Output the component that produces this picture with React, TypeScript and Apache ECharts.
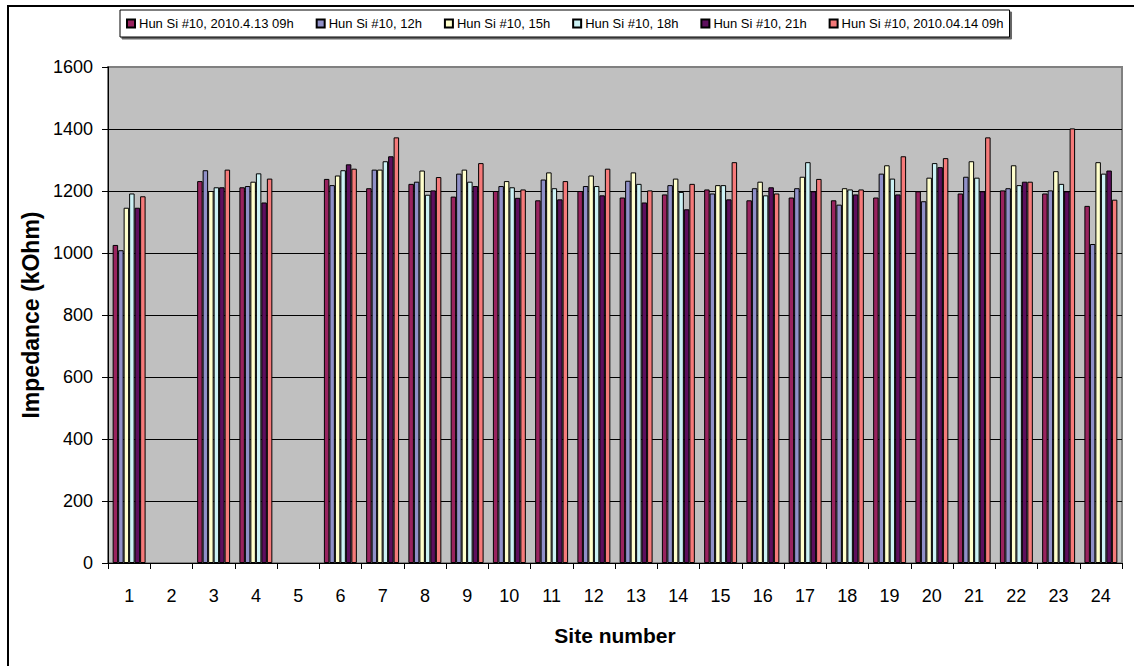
import React, { useEffect, useRef } from "react";
import * as echarts from "echarts";

const sites = ["1","2","3","4","5","6","7","8","9","10","11","12","13","14","15","16","17","18","19","20","21","22","23","24"];
const seriesNames = [
  "Hun Si #10, 2010.4.13 09h",
  "Hun Si #10, 12h",
  "Hun Si #10, 15h",
  "Hun Si #10, 18h",
  "Hun Si #10, 21h",
  "Hun Si #10, 2010.04.14 09h",
];
const s0913 = [1026, null, 1232, 1212, null, 1239, 1209, 1223, 1182, 1200, 1170, 1200, 1179, 1189, 1205, 1170, 1179, 1170, 1179, 1199, 1192, 1202, 1192, 1152];
const s12 = [1009, null, 1267, 1216, null, 1219, 1269, 1230, 1256, 1216, 1237, 1216, 1233, 1219, 1192, 1209, 1209, 1156, 1256, 1167, 1246, 1209, 1202, 1029];
const s15 = [1146, null, 1200, 1230, null, 1250, 1269, 1266, 1269, 1232, 1260, 1250, 1260, 1240, 1219, 1230, 1246, 1209, 1283, 1243, 1296, 1283, 1264, 1293];
const s18 = [1192, null, 1212, 1257, null, 1267, 1296, 1188, 1230, 1212, 1209, 1216, 1223, 1197, 1219, 1186, 1293, 1205, 1240, 1290, 1243, 1219, 1223, 1256];
const s21 = [1146, null, 1212, 1163, null, 1286, 1312, 1202, 1216, 1178, 1173, 1186, 1163, 1141, 1173, 1212, 1199, 1189, 1189, 1277, 1199, 1230, 1199, 1266];
const s0914 = [1183, null, 1269, 1240, null, 1272, 1373, 1245, 1290, 1205, 1232, 1272, 1202, 1223, 1293, 1192, 1239, 1205, 1312, 1306, 1373, 1230, 1402, 1172];
const allSeries = [s0913, s12, s15, s18, s21, s0914];
const colors = ["#99235F", "#9090C8", "#FFFFCC", "#CCF2F5", "#5E0F5E", "#F57A7A"];

const FONT = "'Liberation Sans', Arial, sans-serif";

export default function App() {
  const ref = useRef<HTMLDivElement>(null);
  useEffect(() => {
    if (!ref.current) return;
    const chart = echarts.init(ref.current, undefined, { renderer: "svg" });
    const gridColors = ["#000", "#000", "#000", "#000", "#000", "#000", "#000", "#000", "#808080"];
    chart.setOption({
      animation: false,
      backgroundColor: "#fff",
      textStyle: { fontFamily: FONT },
      graphic: [
        {
          type: "rect",
          shape: { x: 8, y: 6, width: 1200, height: 700 },
          style: { fill: "none", stroke: "#000", lineWidth: 2 },
          silent: true,
          z: 100,
        },
      ],
      legend: {
        left: 120,
        top: 10,
        padding: [7, 6, 7, 6],
        itemGap: 22,
        itemWidth: 8,
        itemHeight: 8,
        icon: "rect",
        backgroundColor: "#fff",
        borderColor: "#000",
        borderWidth: 1,
        shadowColor: "rgba(0,0,0,0.6)",
        shadowOffsetX: 2,
        shadowOffsetY: 2,
        shadowBlur: 0,
        textStyle: { fontFamily: FONT, fontSize: 13, color: "#000", padding: [0, 0, 0, -1] },
        data: seriesNames,
      },
      grid: {
        left: 108,
        top: 67,
        right: 12,
        bottom: 103,
        show: true,
        backgroundColor: "#C0C0C0",
        borderColor: "#808080",
        borderWidth: 2,
      },
      xAxis: {
        type: "category",
        data: sites,
        name: "Site number",
        nameLocation: "middle",
        nameGap: 62,
        nameTextStyle: { fontFamily: FONT, fontSize: 21, fontWeight: "bold", color: "#000" },
        axisLine: { show: true, lineStyle: { color: "#000", width: 1 } },
        axisTick: { show: true, length: 6, interval: 0, lineStyle: { color: "#000" } },
        axisLabel: { fontFamily: FONT, fontSize: 18, color: "#000", margin: 24, interval: 0 },
        splitLine: { show: false },
      },
      yAxis: {
        type: "value",
        min: 0,
        max: 1600,
        interval: 200,
        name: "Impedance (kOhm)",
        nameLocation: "middle",
        nameGap: 64,
        nameTextStyle: { fontFamily: FONT, fontSize: 23, fontWeight: "bold", color: "#000" },
        axisLine: { show: true, lineStyle: { color: "#000", width: 1 } },
        axisTick: { show: true, length: 6, lineStyle: { color: "#000" } },
        axisLabel: {
          fontFamily: FONT,
          fontSize: 18,
          color: "#000",
          margin: 15,
          formatter: (v: number) => String(v),
        },
        splitLine: { show: true, lineStyle: { color: gridColors, width: 1.2 } },
      },
      series: allSeries.map((d, i) => ({
        name: seriesNames[i],
        type: "bar",
        data: d,
        barGap: "0%",
        barCategoryGap: "22%",
        itemStyle: { color: colors[i], borderColor: "#000", borderWidth: 1 },
      })),
    });
    return () => chart.dispose();
  }, []);
  return (
    <div
      ref={ref}
      style={{ position: "fixed", left: 0, top: 0, width: 1134, height: 666 }}
    />
  );
}
